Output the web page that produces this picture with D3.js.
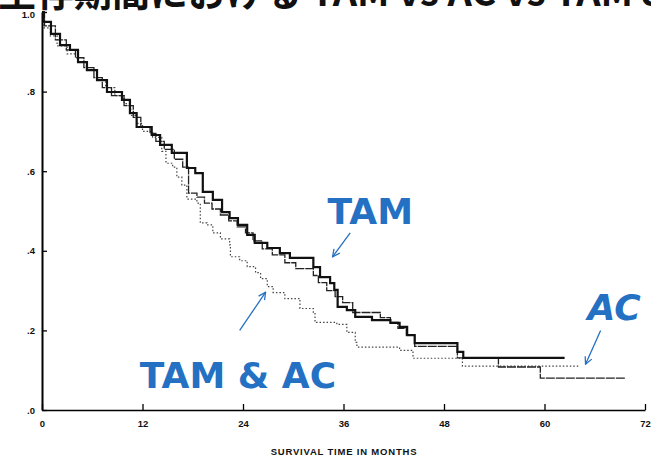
<!DOCTYPE html>
<html>
<head>
<meta charset="utf-8">
<script src="https://cdn.jsdelivr.net/npm/d3@7"></script>
<style>
  html, body { margin: 0; padding: 0; background: #fff; }
  svg { display: block; }
</style>
</head>
<body>
<div id="main"></div>
<script>
(function(){

  // step points: [month, survival]
  const tamSteps = [
    [0, 1.0], [0.2, 0.975], [1.07, 0.945], [2.15, 0.917], [3.34, 0.905], [4.3, 0.874],
    [5.37, 0.854], [6.57, 0.829], [7.76, 0.799], [9.55, 0.779], [10.5, 0.746], [11.3, 0.711],
    [13.1, 0.691], [14.1, 0.666], [15.5, 0.646], [17.3, 0.608], [18.3, 0.595], [19.2, 0.548],
    [20.4, 0.528], [21.5, 0.497], [22.4, 0.482], [23.4, 0.465], [24.5, 0.44], [25.4, 0.42],
    [26.9, 0.407], [28.4, 0.394], [29.6, 0.382], [32.4, 0.359], [33.2, 0.334], [34.4, 0.319],
    [34.9, 0.302], [35.3, 0.259], [36.4, 0.251], [37.4, 0.234], [39.4, 0.226], [41.6, 0.219],
    [42.7, 0.209], [43.6, 0.188], [44.5, 0.168], [49.6, 0.146], [50.3, 0.131], [62.4, 0.131]
  ]

  const acSteps = [
    [0, 1.0], [0.3, 0.965], [1.6, 0.93], [2.9, 0.905], [4.0, 0.885], [5.0, 0.86],
    [6.2, 0.835], [7.2, 0.81], [8.3, 0.79], [9.8, 0.765], [10.9, 0.735], [11.8, 0.71],
    [12.9, 0.695], [13.6, 0.675], [14.6, 0.655], [15.8, 0.63], [16.8, 0.61], [17.5, 0.545],
    [18.5, 0.535], [19.4, 0.52], [20.3, 0.505], [21.3, 0.49], [22.3, 0.475], [23.3, 0.46],
    [24.3, 0.445], [25.2, 0.425], [26.3, 0.405], [27.5, 0.39], [29.0, 0.37], [30.3, 0.355],
    [32.4, 0.338], [33.0, 0.32], [34.0, 0.3], [35.0, 0.285], [35.9, 0.27], [37.1, 0.245],
    [40.4, 0.232], [41.6, 0.22], [42.5, 0.205], [43.5, 0.188], [44.5, 0.16], [49.6, 0.131],
    [54.5, 0.108], [59.5, 0.08], [69.6, 0.08]
  ]

  const tamAcSteps = [
    [0, 1.0], [0.2, 0.96], [1.0, 0.94], [1.8, 0.915], [3.0, 0.895], [4.3, 0.875],
    [5.3, 0.855], [6.6, 0.83], [7.6, 0.81], [8.7, 0.79], [9.8, 0.77], [10.6, 0.74],
    [11.3, 0.72], [12.0, 0.7], [13.2, 0.685], [14.3, 0.65], [14.8, 0.62], [15.6, 0.61],
    [16.1, 0.585], [16.7, 0.565], [17.3, 0.53], [18.5, 0.52], [18.9, 0.47], [19.7, 0.465],
    [20.4, 0.445], [21.3, 0.43], [22.4, 0.415], [22.5, 0.385], [23.6, 0.375], [24.5, 0.36],
    [25.5, 0.345], [26.1, 0.33], [26.9, 0.31], [27.6, 0.295], [29.0, 0.28], [30.8, 0.255],
    [32.4, 0.245], [32.6, 0.22], [35.2, 0.215], [36.4, 0.195], [37.4, 0.17], [37.6, 0.158],
    [42.7, 0.15], [44.3, 0.13], [50.2, 0.11], [64.2, 0.11]
  ]

  const xTicks = [0, 12, 24, 36, 48, 60, 72]
  const yTicks = [0, 0.2, 0.4, 0.6, 0.8, 1.0]
  const yTickLabels = [".0", ".2", ".4", ".6", ".8", "1.0"]

  const titleText = "生存期間における TAM vs AC vs TAM & AC"
  const xTitle = "SURVIVAL TIME IN MONTHS"

  // annotations: label, [month, survival] for label, arrow from, arrow to
  const notes = [
    { label: "TAM", at: [39.2, 0.467], from: [36.8, 0.445], to: [34.7, 0.385], italic: false },
    { label: "TAM & AC", at: [23.4, 0.055], from: [23.6, 0.2], to: [26.7, 0.296], italic: false },
    { label: "AC", at: [68.3, 0.226], from: [66.7, 0.2], to: [64.9, 0.115], italic: true }
  ]

  const width = 651
  const height = 463
  const margin = { top: 12, right: 6, bottom: 53, left: 42 }
  const blue = "#2470c2"

  const svg = d3.select("#main").append("svg")
    .attr("width", width)
    .attr("height", height)

  const xScale = d3.scaleLinear()
    .domain([0, 72])
    .range([margin.left, width - margin.right])

  const yScale = d3.scaleLinear()
    .domain([0, 1])
    .range([height - margin.bottom, margin.top])

  // title, cut off by the top edge as in the scan
  svg.append("text")
    .attr("x", -2)
    .attr("y", 6)
    .attr("font-family", "'Noto Sans CJK JP', 'Noto Sans', sans-serif")
    .attr("font-weight", "bold")
    .attr("font-size", 38)
    .attr("fill", "#111")
    .text(titleText)

  const xAxis = d3.axisBottom(xScale)
    .tickValues(xTicks)
    .tickSizeInner(-6)
    .tickSizeOuter(0)
    .tickPadding(10)

  const yAxis = d3.axisLeft(yScale)
    .tickValues(yTicks)
    .tickFormat((d, i) => yTickLabels[i])
    .tickSizeInner(-5)
    .tickSizeOuter(0)
    .tickPadding(7)

  const gx = svg.append("g")
    .attr("transform", `translate(0,${yScale(0)})`)
    .call(xAxis)
  gx.select(".domain").attr("stroke-width", 1.6)
  gx.selectAll(".tick line").attr("stroke-width", 1.3)

  const gy = svg.append("g")
    .attr("transform", `translate(${xScale(0)},0)`)
    .call(yAxis)
  gy.select(".domain").attr("stroke-width", 2)
  gy.selectAll(".tick line").attr("stroke-width", 1.3)

  svg.selectAll(".tick text")
    .attr("font-family", "'Liberation Sans', Arial, sans-serif")
    .attr("font-weight", "bold")
    .attr("font-size", 9.5)
    .attr("fill", "#111")

  // nudge the top label down a little so it clears the cut title
  gy.selectAll(".tick text").filter(d => d === 1).attr("dy", "0.6em")

  svg.append("text")
    .attr("x", 344)
    .attr("y", 455)
    .attr("text-anchor", "middle")
    .attr("font-family", "'Liberation Sans', Arial, sans-serif")
    .attr("font-weight", "bold")
    .attr("font-size", 9.5)
    .attr("letter-spacing", 0.8)
    .attr("fill", "#111")
    .text(xTitle)

  const line = d3.line()
    .curve(d3.curveStepAfter)
    .x(d => xScale(d[0]))
    .y(d => yScale(d[1]))

  svg.append("path")
    .datum(tamAcSteps)
    .attr("fill", "none")
    .attr("stroke", "#444")
    .attr("stroke-width", 1.2)
    .attr("stroke-dasharray", "1.5,2")
    .attr("d", line)

  svg.append("path")
    .datum(acSteps)
    .attr("fill", "none")
    .attr("stroke", "#222")
    .attr("stroke-width", 1.3)
    .attr("stroke-dasharray", "9,1")
    .attr("d", line)

  svg.append("path")
    .datum(tamSteps)
    .attr("fill", "none")
    .attr("stroke", "#111")
    .attr("stroke-width", 2.2)
    .attr("d", line)

  // annotations
  svg.append("defs").append("marker")
    .attr("id", "head")
    .attr("viewBox", "0 0 10 10")
    .attr("refX", 9)
    .attr("refY", 5)
    .attr("markerWidth", 9)
    .attr("markerHeight", 9)
    .attr("markerUnits", "userSpaceOnUse")
    .attr("orient", "auto")
    .append("path")
    .attr("d", "M1,1 L9,5 L1,9")
    .attr("fill", "none")
    .attr("stroke", blue)
    .attr("stroke-width", 1.4)

  notes.forEach(n => {
    svg.append("text")
      .attr("x", xScale(n.at[0]))
      .attr("y", yScale(n.at[1]))
      .attr("text-anchor", "middle")
      .attr("font-family", "'DejaVu Sans', sans-serif")
      .attr("font-weight", "bold")
      .attr("font-style", n.italic ? "italic" : "normal")
      .attr("font-size", 36)
      .attr("fill", blue)
      .text(n.label)

    svg.append("line")
      .attr("x1", xScale(n.from[0]))
      .attr("y1", yScale(n.from[1]))
      .attr("x2", xScale(n.to[0]))
      .attr("y2", yScale(n.to[1]))
      .attr("stroke", blue)
      .attr("stroke-width", 1.3)
      .attr("marker-end", "url(#head)")
  })
}())
</script>
</body>
</html>
